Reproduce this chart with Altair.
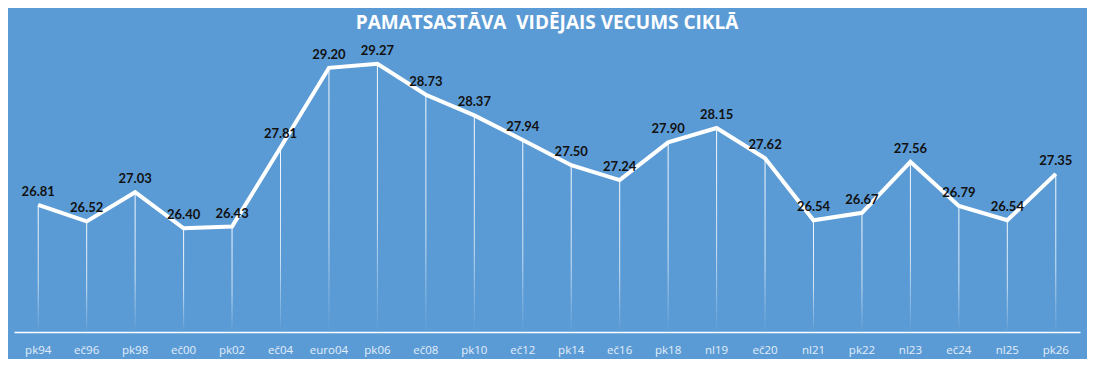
import altair as alt
import pandas as pd

cycles = ["pk94", "eč96", "pk98", "eč00", "pk02", "eč04", "euro04", "pk06", "eč08", "pk10",
          "eč12", "pk14", "eč16", "pk18", "nl19", "eč20", "nl21", "pk22", "nl23", "eč24",
          "nl25", "pk26"]
ages = [26.81, 26.52, 27.03, 26.40, 26.43, 27.81, 29.20, 29.27, 28.73, 28.37,
        27.94, 27.50, 27.24, 27.90, 28.15, 27.62, 26.54, 26.67, 27.56, 26.79,
        26.54, 27.35]

YMIN, YMAX = 24.59, 29.79
df = pd.DataFrame({"cycle": cycles, "age": ages})
df["base"] = YMIN
df["label"] = [f"{v:.2f}" for v in ages]

x = alt.X("cycle:N", sort=None,
          scale=alt.Scale(type="band", paddingInner=0, paddingOuter=0),
          axis=alt.Axis(title=None, labelAngle=0, ticks=False, domain=True,
                        domainColor="#ffffff", domainWidth=1.5, grid=False,
                        labelColor="#e3eef9", labelFont="Open Sans", labelFontSize=11.5,
                        labelPadding=12))
y = alt.Y("age:Q", scale=alt.Scale(domain=[YMIN, YMAX], nice=False, zero=False), axis=None)

grad = alt.LinearGradient(
    gradient="linear", x1=0, x2=0, y1=0, y2=1,
    stops=[alt.GradientStop(color="rgba(255,255,255,0.95)", offset=0),
           alt.GradientStop(color="rgba(255,255,255,0.7)", offset=0.6),
           alt.GradientStop(color="rgba(255,255,255,0.0)", offset=1)])

drops = alt.Chart(df).mark_bar(width=1, color=grad).encode(x=x, y=y, y2="base:Q")
line = alt.Chart(df).mark_line(color="white", strokeWidth=4, strokeJoin="miter").encode(x=x, y=y)
labels = alt.Chart(df).mark_text(font="Lato", fontWeight="bold", fontSize=13, color="#111111",
                                 dy=-13, baseline="middle").encode(x=x, y=y, text="label:N")

chart = alt.layer(drops, line, labels).properties(
    width=1066, height=298,
    autosize=alt.AutoSizeParams(type="none"),
    padding={"left": 6, "top": 26, "right": 7, "bottom": 27},
    background="#5b9bd5",
    title=alt.TitleParams("PAMATSASTĀVA\u00a0 VIDĒJAIS VECUMS CIKLĀ", font="Open Sans", fontSize=19,
                          fontWeight="bold", color="white", anchor="middle", offset=1),
).configure_view(stroke=None)

chart.save("out.html", embed_options={"renderer": "svg", "actions": False})
